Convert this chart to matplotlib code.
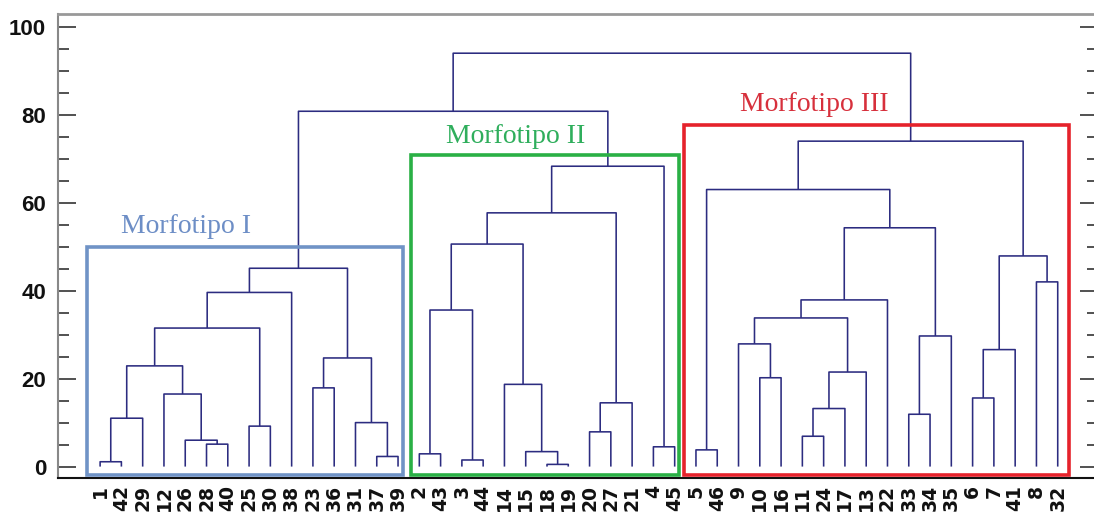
import matplotlib.pyplot as plt
from matplotlib.patches import Rectangle
from matplotlib.ticker import MultipleLocator

# leaf labels in the order they appear on the x axis
leaves = [1, 42, 29, 12, 26, 28, 40, 25, 30, 38, 23, 36, 31, 37, 39,
          2, 43, 3, 44, 14, 15, 18, 19, 20, 27, 21, 4, 45,
          5, 46, 9, 10, 16, 11, 24, 17, 13, 22, 33, 34, 35, 6, 7, 41, 8, 32]

# merges: (left node, right node, height); nodes 0..45 are leaves,
# each merge creates node 46, 47, ...
merges = [
    # Morfotipo I
    (0, 1, 1.1), (46, 2, 11.0), (5, 6, 5.1), (4, 48, 6.0), (3, 49, 16.5),
    (47, 50, 22.9), (7, 8, 9.2), (51, 52, 31.5), (53, 9, 39.6),
    (10, 11, 17.9), (13, 14, 2.3), (12, 56, 10.0), (55, 57, 24.7),
    (54, 58, 45.1),
    # Morfotipo II
    (15, 16, 2.9), (17, 18, 1.5), (60, 61, 35.6), (21, 22, 0.5),
    (20, 63, 3.4), (19, 64, 18.7), (62, 65, 50.6), (23, 24, 7.9),
    (67, 25, 14.5), (66, 68, 57.7), (26, 27, 4.5), (69, 70, 68.3),
    # Morfotipo III
    (28, 29, 3.8), (31, 32, 20.2), (30, 73, 27.9), (33, 34, 6.9),
    (75, 35, 13.2), (76, 36, 21.5), (74, 77, 33.8), (78, 37, 37.9),
    (38, 39, 11.9), (80, 40, 29.7), (79, 81, 54.3), (72, 82, 63.0),
    (41, 42, 15.6), (84, 43, 26.6), (44, 45, 42.0), (85, 86, 47.9),
    (83, 87, 74.0),
    # top
    (59, 71, 80.8), (89, 88, 94.0),
]

group_names = ["Morfotipo I", "Morfotipo II", "Morfotipo III"]
group_sizes = [15, 13, 18]
group_roots = [59, 71, 88]

group_colors = ["#7093c6", "#2ab045", "#e5222b"]
text_colors = ["#6d8ec6", "#2fae5c", "#d7303c"]
# box padding (left, right, top) and label offset (x from box left, y above box)
box_pad = [(0.63, 0.25, 4.9), (0.37, 0.18, 2.5), (0.54, 0.51, 3.6)]
label_off = [(4.65, 3.1), (4.88, 2.8), (6.09, 3.2)]
line_color = "#2c2c80"

fig = plt.figure(figsize=(10.94, 5.21), dpi=100)
ax = fig.add_axes([0.053, 0.0825, 0.9508, 0.8905])

# node positions
xs = list(range(len(leaves)))
hs = [0.0] * len(leaves)
for a, b, h in merges:
    ax.plot([xs[a], xs[a], xs[b], xs[b]], [hs[a], h, h, hs[b]],
            color=line_color, lw=1.15, snap=False, solid_capstyle='butt')
    xs.append((xs[a] + xs[b]) / 2)
    hs.append(h)

# cluster boxes and names
start = 0
for i, n in enumerate(group_sizes):
    pl, pr, pt = box_pad[i]
    x0 = start - pl
    x1 = start + n - 1 + pr
    top = hs[group_roots[i]] + pt
    ax.add_patch(Rectangle((x0, -1.9), x1 - x0, top + 1.9, fill=False,
                           edgecolor=group_colors[i], lw=2.6, zorder=3))
    ox, oy = label_off[i]
    ax.text(x0 + ox, top + oy, group_names[i], ha='center', va='baseline',
            fontsize=20, family='Liberation Serif', color=text_colors[i])
    start += n

ax.set_xlim(-1.98, 46.9)
ax.set_ylim(-2.6, 102.9)
ax.set_xticks(range(len(leaves)))
ax.set_xticklabels([str(v) for v in leaves], rotation=90, fontsize=13.5,
                   fontweight='bold', family='DejaVu Sans', color='#111111')
ax.tick_params(axis='x', length=0, pad=5)

ax.yaxis.set_major_locator(MultipleLocator(20))
ax.yaxis.set_minor_locator(MultipleLocator(5))
ax.tick_params(axis='y', which='both', direction='in', left=True, right=True,
               color='#333333', width=1.2)
ax.tick_params(axis='y', which='major', length=13, pad=8.5)
ax.tick_params(axis='y', which='minor', length=8)
for lab in ax.get_yticklabels():
    lab.set_fontsize(16)
    lab.set_fontweight('bold')
    lab.set_family('Liberation Sans')
    lab.set_color('#111111')

ax.spines['left'].set_color('#888888')
ax.spines['left'].set_linewidth(1.5)
ax.spines['top'].set_color('#999999')
ax.spines['top'].set_linewidth(2)
ax.spines['bottom'].set_color('#111111')
ax.spines['bottom'].set_linewidth(1.5)
ax.spines['right'].set_color('#888888')

plt.savefig('out.png', dpi=100)
